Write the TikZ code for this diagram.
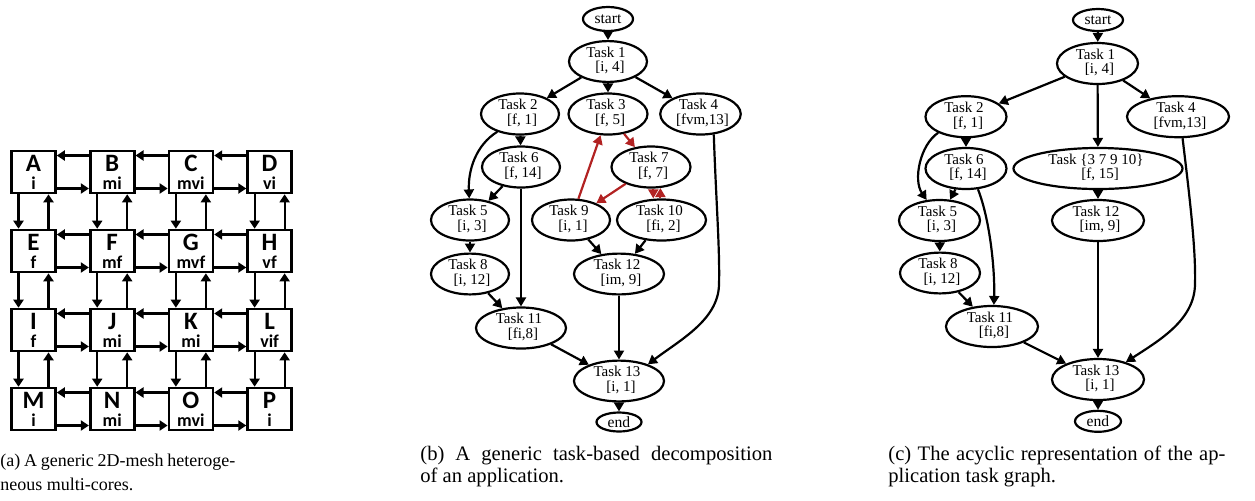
\documentclass[tikz,border=0pt]{standalone}
\usepackage{fontspec}
\setmainfont{Liberation Serif}
\newfontfamily\meshfont{Carlito}
\usetikzlibrary{shapes.geometric,arrows.meta}
\definecolor{gvred}{RGB}{178,34,34}
\newcommand{\tlab}[2]{\begin{tabular}{@{}c@{}}\hspace{-2pt}#1\\\hspace{2pt}#2\end{tabular}}
\newcommand{\mlab}[2]{\vbox{\offinterlineskip
  \hbox to 0pt{\hss\fontsize{12.5}{14}\selectfont\vrule height 8.2pt depth 0pt width 0pt #1\hss}
  \hbox to 0pt{\hss\fontsize{9}{10}\selectfont\vrule height 9pt depth 0pt width 0pt #2\hss}}}
\begin{document}
\begin{tikzpicture}[x=0.5pt,y=-0.5pt,
  mbox/.style={draw,line width=1.3pt,minimum width=22pt,minimum height=21pt,inner sep=0pt,
     font=\meshfont\bfseries},
  ma/.style={line width=1.1pt,-{Triangle[length=4pt,width=5pt]}},
  tnode/.style={ellipse,draw,line width=1.1pt,inner sep=0pt,align=center,
     font=\fontsize{7.5}{6.7}\selectfont},
  tsz/.style 2 args={minimum width=#1pt,minimum height=#2pt},
  snode/.style={tnode,font=\fontsize{7.8}{8}\selectfont},
  edg/.style={line width=1.1pt,-{Triangle[length=4.5pt,width=5pt]}},
  redg/.style={edg,draw=gvred,color=gvred},
  captxt/.style={inner sep=0pt,anchor=base west}]
\useasboundingbox (0,0) rectangle (1255,500);

% ---------- (a) mesh ----------
\foreach \nm/\sb/\c/\r in {A/i/0/0, B/mi/1/0, C/mvi/2/0, D/vi/3/0,
  E/f/0/1, F/mf/1/1, G/mvf/2/1, H/vf/3/1,
  I/f/0/2, J/mi/1/2, K/mi/2/2, L/vif/3/2,
  M/i/0/3, N/mi/1/3, O/mvi/2/3, P/i/3/3} {
  \node[mbox] (\nm) at ({33.5+78.7*\c},{172+79*\r}) {\mlab{\nm}{\sb}};
}
\foreach \l/\r in {A/B,B/C,C/D,E/F,F/G,G/H,I/J,J/K,K/L,M/N,N/O,O/P} {
  \draw[ma] ([yshift=8.25pt]\r.west) -- ([yshift=8.25pt]\l.east);
  \draw[ma] ([yshift=-8.25pt]\l.east) -- ([yshift=-8.25pt]\r.west);
}
\foreach \t/\b in {A/E,E/I,I/M,B/F,F/J,J/N,C/G,G/K,K/O,D/H,H/L,L/P} {
  \draw[ma] ([xshift=-7.5pt]\t.south) -- ([xshift=-7.5pt]\b.north);
  \draw[ma] ([xshift=7.5pt]\b.north) -- ([xshift=7.5pt]\t.south);
}

% ---------- (b) task graph ----------
\node[snode,tsz={25}{12}] (b0) at (608,19) {start};
\node[tnode,tsz={39}{19.5}] (b1) at (608,61.5) {\tlab{Task 1}{[i, 4]}};
\node[tnode,tsz={39}{20}] (b2) at (520,114) {\tlab{Task 2}{[f, 1]}};
\node[tnode,tsz={39.5}{20}] (b3) at (608,114) {\tlab{Task 3}{[f, 5]}};
\node[tnode,tsz={39.5}{20}] (b4) at (700.5,114) {\tlab{Task 4}{[fvm,13]}};
\node[tnode,tsz={39}{20}] (b6) at (521,167) {\tlab{Task 6}{[f, 14]}};
\node[tnode,tsz={39.5}{20}] (b7) at (651,167) {\tlab{Task 7}{[f, 7]}};
\node[tnode,tsz={39}{20.5}] (b5) at (470,220) {\tlab{Task 5}{[i, 3]}};
\node[tnode,tsz={39}{20.5}] (b9) at (571,220) {\tlab{Task 9}{[i, 1]}};
\node[tnode,tsz={44.5}{20.5}] (b10) at (661.5,220) {\tlab{Task 10}{[fi, 2]}};
\node[tnode,tsz={39}{19}] (b8) at (470,274) {\tlab{Task 8}{[i, 12]}};
\node[tnode,tsz={45}{19}] (b12) at (619,274) {\tlab{Task 12}{[im, 9]}};
\node[tnode,tsz={45}{20}] (b11) at (521,328) {\tlab{Task 11}{[fi,8]}};
\node[tnode,tsz={45}{19}] (b13) at (619,381) {\tlab{Task 13}{[i, 1]}};
\node[snode,tsz={22.5}{9.5}] (b14) at (619,422) {end};

\draw[edg] (b0) -- (b1);
\draw[edg] (b1) -- (b2);
\draw[edg] (b1) -- (b3);
\draw[edg] (b1) -- (b4);
\draw[edg] (b2) -- (b6);
\draw[edg] (b2.-142) .. controls (476,145) and (468,170) .. (b5.92);
\draw[edg] (b6) -- (b5);
\draw[edg] (b6) -- (b11);
\draw[edg] (b5) -- (b8);
\draw[edg] (b8) -- (b11);
\draw[redg] (b3) -- (b7);
\draw[redg] (b9) -- (b3);
\draw[redg] (b7) -- (b9);
\draw[redg] (b7.-84) -- (b7.-84 |- b10.north);
\draw[redg] (b10.north -| b7.-66) -- (b7.-66);
\draw[edg] (b9) -- (b12);
\draw[edg] (b10) -- (b12);
\draw[edg] (b11) -- (b13);
\draw[edg] (b12) -- (b13);
\draw[edg] (b4.-57) .. controls (716,200) and (720,250) .. (719,285)
   .. controls (718,320) and (680,340) .. (b13.30);
\draw[edg] (b13) -- (b14);

% ---------- (c) acyclic graph ----------
\node[snode,tsz={25}{11}] (c0) at (1098,20) {start};
\node[tnode,tsz={40.5}{20.5}] (c1) at (1097.5,63.5) {\tlab{Task 1}{[i, 4]}};
\node[tnode,tsz={40.5}{20}] (c2) at (966,116.7) {\tlab{Task 2}{[f, 1]}};
\node[tnode,tsz={51}{20}] (c4) at (1178,116.7) {\tlab{Task 4}{[fvm,13]}};
\node[tnode,tsz={40.5}{20.5}] (c6) at (966,168.5) {\tlab{Task 6}{[f, 14]}};
\node[tnode,tsz={84.5}{20.5}] (c3) at (1098,168.5) {\tlab{Task \{3 7 9 10\}}{[f, 15]}};
\node[tnode,tsz={40.5}{20.5}] (c5) at (939.5,220.5) {\tlab{Task 5}{[i, 3]}};
\node[tnode,tsz={46}{20.5}] (c12) at (1098,220.5) {\tlab{Task 12}{[im, 9]}};
\node[tnode,tsz={40}{20}] (c8) at (940,273) {\tlab{Task 8}{[i, 12]}};
\node[tnode,tsz={46}{20.5}] (c11) at (992,326.5) {\tlab{Task 11}{[fi,8]}};
\node[tnode,tsz={46}{20.5}] (c13) at (1098,379.5) {\tlab{Task 13}{[i, 1]}};
\node[snode,tsz={23}{10.5}] (c14) at (1098,421.3) {end};

\draw[edg] (c0) -- (c1);
\draw[edg] (c1) -- (c2);
\draw[edg] (c1) -- (c3);
\draw[edg] (c1) -- (c4);
\draw[edg] (c2) -- (c6);
\draw[edg] (c2.-150) .. controls (920,145) and (913,180) .. (c5.122);
\draw[edg] (c6) -- (c5);
\draw[edg] (c6.-60) .. controls (990,220) and (995,270) .. (c11.85);
\draw[edg] (c3) -- (c12);
\draw[edg] (c12) -- (c13);
\draw[edg] (c5) -- (c8);
\draw[edg] (c8) -- (c11);
\draw[edg] (c11) -- (c13);
\draw[edg] (c4.-78) .. controls (1190,200) and (1196,250) .. (1195,285)
   .. controls (1194,320) and (1160,340) .. (c13.32);
\draw[edg] (c13) -- (c14);

% ---------- captions ----------
\node[captxt] (capa1) at (0,466.5) {\fontsize{9}{11}\selectfont\makebox[117.5pt][s]{(a) A generic 2D-mesh heteroge-}};
\node[captxt] (capa2) at (0,490) {\fontsize{9}{11}\selectfont neous multi-cores.};
\node[captxt] (capb1) at (420,460) {\fontsize{10.3}{12}\selectfont\makebox[176pt][s]{(b) A generic task-based decomposition}};
\node[captxt] (capb2) at (420,482) {\fontsize{10.3}{12}\selectfont of an application.};
\node[captxt] (capc1) at (888,460.5) {\fontsize{10.3}{12}\selectfont\makebox[168.5pt][s]{(c) The acyclic representation of the ap-}};
\node[captxt] (capc2) at (888,482) {\fontsize{10.3}{12}\selectfont plication task graph.};
\end{tikzpicture}
\end{document}
